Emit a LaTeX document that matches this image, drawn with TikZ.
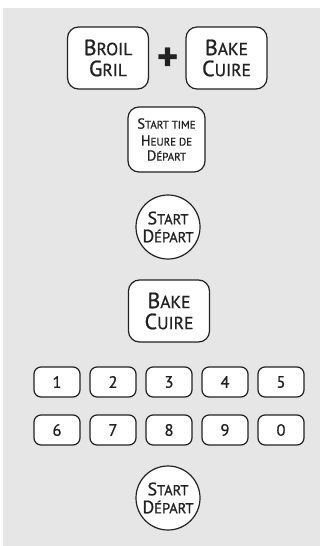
\documentclass[tikz,border=0pt]{standalone}
\usepackage{fontspec}
\setmainfont{PT Sans}[FakeBold=0.9]
\usepackage{xcolor}
\usetikzlibrary{positioning}

\definecolor{panelgray}{HTML}{E6E6E6}
\definecolor{inkdark}{HTML}{222222}
% fake small caps: big first letter, smaller rest
\newcommand{\sct}[4]{{\fontsize{#1}{#1}\selectfont #3}{\fontsize{#2}{#2}\selectfont #4}}

\begin{document}
\begin{tikzpicture}[
  x=1pt, y=1pt,
  key/.style={rounded corners=11pt, draw=inkdark, fill=white, line width=1.2pt, text=inkdark, align=center, inner sep=0pt},
  bigkey/.style={key, minimum width=81pt, minimum height=62pt, font=\fontsize{17}{21}\selectfont},
  timekey/.style={key, minimum width=77pt, minimum height=65pt, font=\fontsize{10}{17}\selectfont},
  numkey/.style={key, rounded corners=7pt, minimum width=46pt, minimum height=30pt, font=\fontsize{16.5}{16}\selectfont},
  startkey/.style={circle, draw=inkdark, fill=white, line width=1.2pt, text=inkdark, align=center, inner sep=0pt, minimum size=64pt, font=\fontsize{14}{18}\selectfont}
]
\useasboundingbox (0,0) rectangle (320,-546);
\fill[panelgray] (3,-8) rectangle (320,-546);

% top row
\node[bigkey] (broil) at (108,-58) {\sct{22}{17.5}{B}{ROIL}\\\sct{22}{17.5}{G}{RIL}};
\node[bigkey] (bake) at (226.5,-58) {\sct{22}{17.5}{B}{AKE}\\\sct{22}{17.5}{C}{UIRE}};
\node[text=inkdark, font=\bfseries\fontsize{40}{40}\selectfont, inner sep=0pt] (plus) at (167.5,-59) {+};

% start time
\node[timekey] (starttime) at (166.5,-139.5) {\sct{14.5}{11}{S}{TART TIME}\\\sct{14.5}{11}{H}{EURE DE}\\[-2pt]\sct{14.5}{11}{D}{ÉPART}};

\node[startkey] (start) at (168,-227) {\sct{18}{14.5}{S}{TART}\\\sct{18}{14.5}{D}{ÉPART}};

\node[bigkey] (bakecuire) at (169,-311) {\sct{22}{17.5}{B}{AKE}\\\sct{22}{17.5}{C}{UIRE}};

% number pad
\foreach \d [count=\i from 0] in {1,2,3,4,5}
  \node[numkey] (num\d) at (57+56*\i,-382) {\d};
\foreach \d [count=\i from 0] in {6,7,8,9,0}
  \node[numkey] (num\d) at (57+56*\i,-430) {\d};

\node[startkey] (startb) at (168,-498) {\sct{18}{14.5}{S}{TART}\\\sct{18}{14.5}{D}{ÉPART}};
\end{tikzpicture}
\end{document}
